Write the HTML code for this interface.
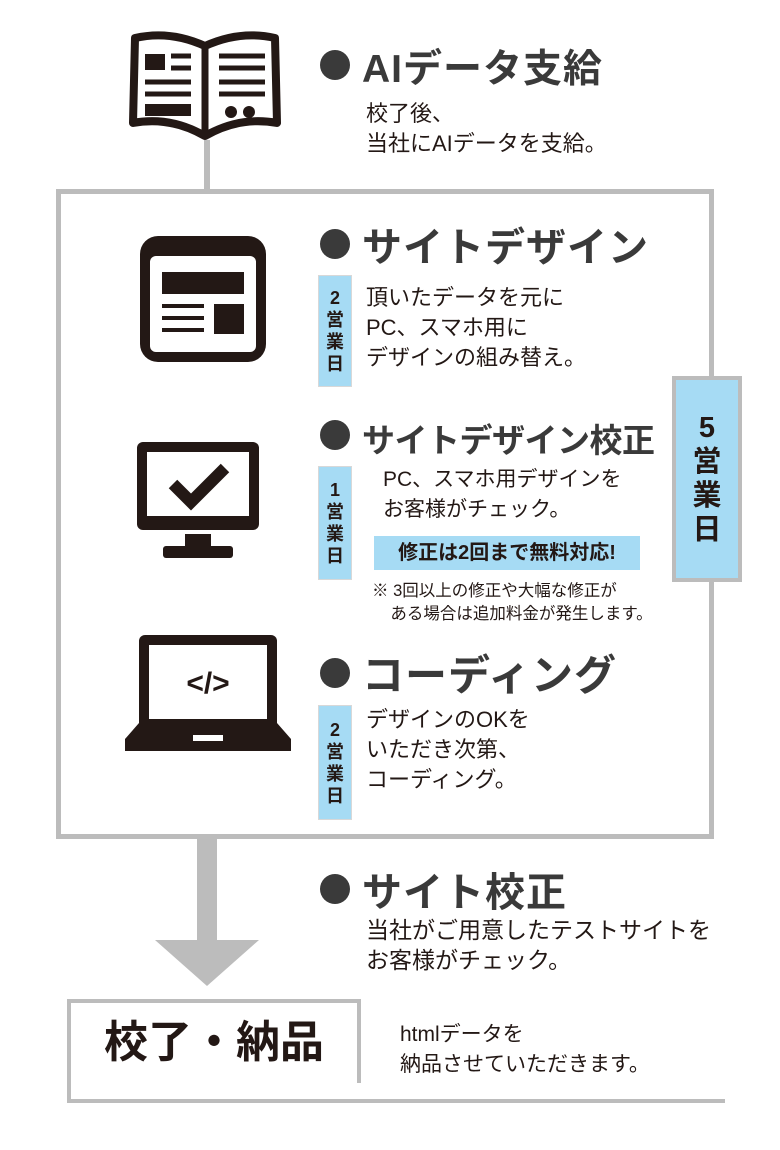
<!DOCTYPE html>
<html><head><meta charset="utf-8"><style>
body{margin:0;width:780px;height:1150px;background:#fff;position:relative;overflow:hidden;font-family:"Liberation Sans","Noto Sans CJK JP",sans-serif;color:#231815}
.a{position:absolute}
.t{position:absolute;font-size:39px;font-weight:bold;color:#3a3a3a;white-space:nowrap;letter-spacing:1px}
.t:before{content:"";display:inline-block;width:30px;height:30px;border-radius:50%;background:#3a3a3a;margin-right:12px;vertical-align:2px}
.p{position:absolute;font-size:22px;line-height:30px;color:#231815;white-space:nowrap}
.tag{position:absolute;width:32px;background:#a6dbf4;border:1px solid #d8d8d8;font-size:18px;font-weight:bold;line-height:22px;text-align:center;display:flex;flex-direction:column;justify-content:center}
</style></head><body>
<svg class="a" style="left:125px;top:28px" width="160" height="115" viewBox="0 0 160 115">
<path d="M80 18 Q45 2 10 10 L8 95 Q45 88 80 108 Q115 88 152 95 L150 10 Q115 2 80 18 Z" fill="#fff" stroke="#231815" stroke-width="8" stroke-linejoin="round"/>
<line x1="80" y1="18" x2="80" y2="106" stroke="#231815" stroke-width="7"/>
<rect x="20" y="26" width="20" height="16" fill="#231815"/>
<g stroke="#231815" stroke-width="5"><line x1="46" y1="28" x2="66" y2="28"/><line x1="46" y1="40" x2="66" y2="40"/><line x1="20" y1="54" x2="66" y2="54"/><line x1="20" y1="66" x2="66" y2="66"/>
<line x1="94" y1="28" x2="140" y2="28"/><line x1="94" y1="40" x2="140" y2="40"/><line x1="94" y1="54" x2="140" y2="54"/><line x1="94" y1="66" x2="140" y2="66"/></g>
<rect x="20" y="76" width="46" height="12" fill="#231815"/>
<circle cx="106" cy="84" r="6" fill="#231815"/><circle cx="124" cy="84" r="6" fill="#231815"/>
</svg>
<div class="a" style="left:204px;top:140px;width:6px;height:52px;background:#bcbcbc"></div>
<div class="t" style="left:320px;top:38px">AIデータ支給</div>
<div class="p" style="left:366px;top:99px">校了後、<br>当社にAIデータを支給。</div>

<div class="a" style="left:56px;top:189px;width:648px;height:640px;border:5px solid #bcbcbc"></div>
<div class="a" style="left:672px;top:376px;width:62px;height:198px;background:#a6dbf4;border:4px solid #bcbcbc;font-size:29px;font-weight:bold;line-height:34px;text-align:center;display:flex;flex-direction:column;justify-content:center">5<br>営<br>業<br>日</div>

<svg class="a" style="left:136px;top:232px" width="134" height="134">
<rect x="4" y="4" width="126" height="126" rx="18" fill="#231815"/>
<rect x="14" y="24" width="106" height="96" rx="6" fill="#fff"/>
<rect x="26" y="40" width="82" height="22" fill="#231815"/>
<rect x="78" y="72" width="30" height="30" fill="#231815"/>
<g stroke="#231815" stroke-width="4"><line x1="26" y1="74" x2="68" y2="74"/><line x1="26" y1="86" x2="68" y2="86"/><line x1="26" y1="98" x2="68" y2="98"/></g>
</svg>
<div class="t" style="left:320px;top:215px;font-size:40px">サイトデザイン</div>
<div class="tag" style="left:318px;top:275px;height:110px">2<br>営<br>業<br>日</div>
<div class="p" style="left:366px;top:283px">頂いたデータを元に<br>PC、スマホ用に<br>デザインの組み替え。</div>

<svg class="a" style="left:133px;top:438px" width="130" height="125">
<rect x="4" y="4" width="122" height="88" rx="6" fill="#231815"/>
<rect x="14" y="14" width="102" height="64" fill="#fff"/>
<path d="M40 46 L58 64 L92 30" fill="none" stroke="#231815" stroke-width="12"/>
<rect x="52" y="96" width="26" height="14" fill="#231815"/>
<rect x="30" y="108" width="70" height="12" rx="3" fill="#231815"/>
</svg>
<div class="t" style="left:320px;top:414px;font-size:33px;letter-spacing:-0.5px">サイトデザイン校正</div>
<div class="tag" style="left:318px;top:466px;height:112px">1<br>営<br>業<br>日</div>
<div class="p" style="left:383px;top:465px;font-size:21px">PC、スマホ用デザインを<br>お客様がチェック。</div>
<div class="a" style="left:374px;top:536px;width:266px;height:34px;background:#a6dbf4;font-size:20px;font-weight:bold;line-height:34px;text-align:center;color:#231815">修正は2回まで無料対応!</div>
<div class="a" style="left:372px;top:580px;font-size:16.5px;line-height:23px;white-space:nowrap">※ 3回以上の修正や大幅な修正が<br>&nbsp;&nbsp;&nbsp;&nbsp;ある場合は追加料金が発生します。</div>

<svg class="a" style="left:123px;top:633px" width="170" height="120">
<rect x="16" y="2" width="138" height="96" rx="6" fill="#231815"/>
<rect x="26" y="12" width="118" height="74" fill="#fff"/>
<text x="85" y="60" font-family="Liberation Sans" font-size="30" font-weight="bold" text-anchor="middle" fill="#231815">&lt;/&gt;</text>
<path d="M16 90 L154 90 L168 106 L168 118 L2 118 L2 106 Z" fill="#231815"/>
<rect x="70" y="102" width="30" height="6" fill="#fff"/>
</svg>
<div class="t" style="left:320px;top:642px;font-size:42px">コーディング</div>
<div class="tag" style="left:318px;top:705px;height:113px">2<br>営<br>業<br>日</div>
<div class="p" style="left:366px;top:705px">デザインのOKを<br>いただき次第、<br>コーディング。</div>

<div class="a" style="left:197px;top:834px;width:20px;height:108px;background:#bcbcbc"></div>
<div class="a" style="left:155px;top:940px;width:0;height:0;border-left:52px solid transparent;border-right:52px solid transparent;border-top:46px solid #bcbcbc"></div>
<div class="t" style="left:320px;top:860px;font-size:40px">サイト校正</div>
<div class="p" style="left:366px;top:915px;font-size:23px">当社がご用意したテストサイトを<br>お客様がチェック。</div>

<div class="a" style="left:67px;top:999px;width:286px;height:80px;border:4px solid #bcbcbc;border-bottom:none;font-size:44px;font-weight:bold;line-height:80px;text-align:center;color:#231815">校了・納品</div>
<div class="a" style="left:67px;top:1079px;width:4px;height:24px;background:#bcbcbc"></div>
<div class="a" style="left:67px;top:1099px;width:658px;height:4px;background:#bcbcbc"></div>
<div class="p" style="left:400px;top:1020px;font-size:21px">htmlデータを<br>納品させていただきます。</div>
</body></html>
